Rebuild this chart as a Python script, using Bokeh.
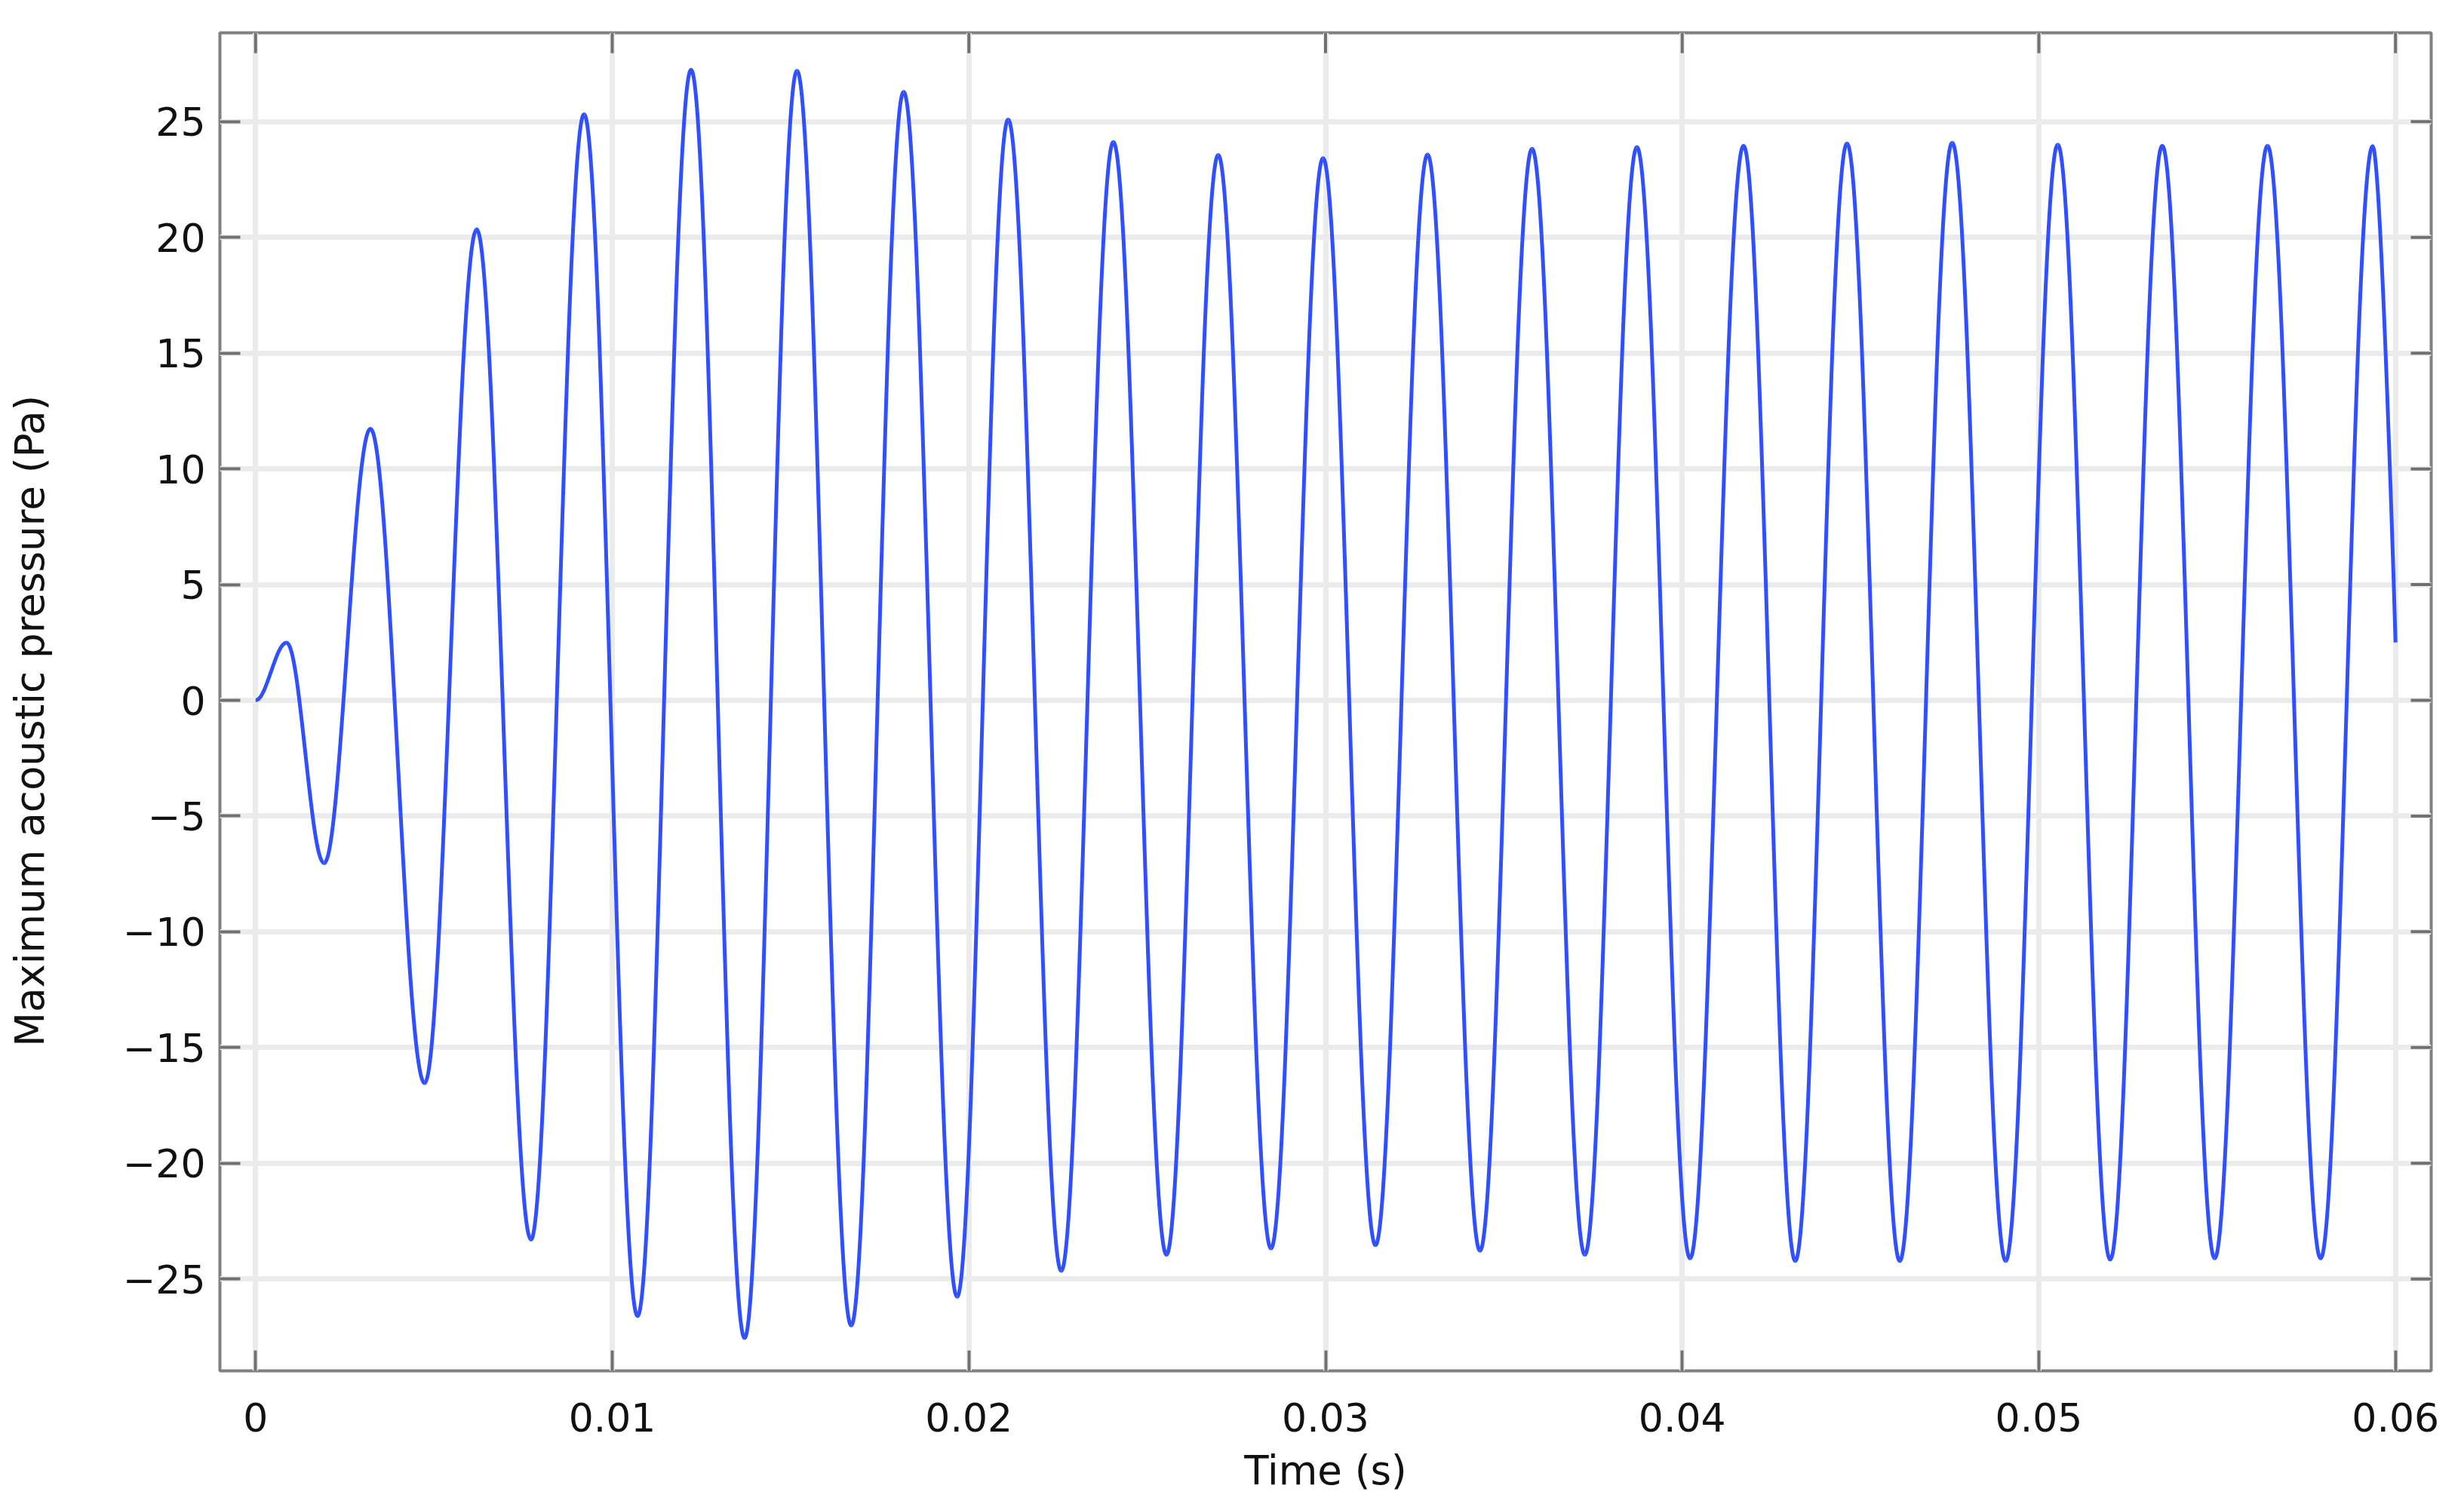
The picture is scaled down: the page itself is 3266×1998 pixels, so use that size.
from bokeh.plotting import figure
from bokeh.models import FixedTicker, Range1d, ColumnDataSource
from bokeh.embed import file_html
from bokeh.resources import INLINE

# ---- data (times of successive extrema and their values) ----
ext_time = [0.0, 0.00087, 0.00192, 0.00322, 0.00474, 0.00620, 0.00772, 0.00921,
            0.01071, 0.01221, 0.01371, 0.01518, 0.01670, 0.01817, 0.01967, 0.02110,
            0.02259, 0.02405, 0.02554, 0.02699, 0.02847, 0.02993, 0.03140, 0.03286,
            0.03433, 0.03579, 0.03727, 0.03873, 0.04022, 0.04172, 0.04317, 0.04462,
            0.04610, 0.04757, 0.04907, 0.05053, 0.05200, 0.05346, 0.05493, 0.05641,
            0.05790, 0.05936, 0.06000]
ext_pressure = [0.0, 2.49, -7.04, 11.73, -16.54, 20.35, -23.30, 25.32,
                -26.60, 27.24, -27.55, 27.20, -27.01, 26.29, -25.77, 25.09,
                -24.65, 24.12, -23.95, 23.56, -23.68, 23.42, -23.54, 23.58,
                -23.78, 23.83, -23.95, 23.90, -24.11, 23.96, -24.22, 24.06,
                -24.22, 24.09, -24.22, 24.01, -24.16, 23.96, -24.11, 23.96,
                -24.11, 23.94, 2.50]

x_ticks = [0, 0.01, 0.02, 0.03, 0.04, 0.05, 0.06]
x_tick_labels = ["0", "0.01", "0.02", "0.03", "0.04", "0.05", "0.06"]
y_ticks = [-25, -20, -15, -10, -5, 0, 5, 10, 15, 20, 25]
y_tick_labels = ["\u221225", "\u221220", "\u221215", "\u221210", "\u22125", "0",
                 "5", "10", "15", "20", "25"]

x_label = "Time (s)"
y_label = "Maximum acoustic pressure (Pa)"

# ---- view ----
X_MIN, X_MAX = -0.001, 0.061
Y_MIN, Y_MAX = -28.97, 28.84
FRAME_W, FRAME_H = 2931, 1775          # pixels of the plot frame
TICK_PX = 27                           # inward tick length on the mirrored sides

# ---- smooth curve through extrema (cubic segments, flat tangents at extrema) ----
k = 0.3634
x0 = ext_time[:-1]
y0 = ext_pressure[:-1]
x1 = ext_time[1:]
y1 = ext_pressure[1:]
cx0 = [a + k * (b - a) for a, b in zip(x0, x1)]
cy0 = list(y0)
cx1 = [b - k * (b - a) for a, b in zip(x0, x1)]
cy1 = list(y1)
# last point is not an extremum: let the curve arrive along its descent
cx1[-1] = x1[-1]
cy1[-1] = y1[-1]
src = ColumnDataSource(dict(x0=x0, y0=y0, x1=x1, y1=y1, cx0=cx0, cy0=cy0, cx1=cx1, cy1=cy1))

FONT = "DejaVu Sans"
TICK_COLOR = "#707070"

p = figure(width=3250, height=1982,
           x_range=Range1d(X_MIN, X_MAX), y_range=Range1d(Y_MIN, Y_MAX),
           output_backend="svg", toolbar_location=None,
           min_border_left=291, min_border_right=28, min_border_top=43, min_border_bottom=164,
           x_axis_label=x_label,
           y_axis_label=y_label + "\u00a0\u00a0\u00a0")

p.background_fill_color = "white"
p.border_fill_color = "white"
p.outline_line_color = "#808080"
p.outline_line_width = 4

xt = FixedTicker(ticks=x_ticks)
yt = FixedTicker(ticks=y_ticks)

for g, t in ((p.xgrid, xt), (p.ygrid, yt)):
    g.ticker = t
    g.grid_line_color = "#ebebeb"
    g.grid_line_width = 7

def style_axis(ax, ticker, labels):
    ax.ticker = ticker
    ax.axis_line_color = None
    ax.major_tick_in = TICK_PX
    ax.major_tick_out = 0
    ax.major_tick_line_color = TICK_COLOR
    ax.major_tick_line_width = 4
    ax.minor_tick_line_color = None
    ax.major_label_text_font = FONT
    ax.major_label_text_font_size = "52px"
    ax.major_label_text_color = "#111111"
    ax.axis_label_text_font = FONT
    ax.axis_label_text_font_size = "53px"
    ax.axis_label_text_font_style = "normal"
    ax.axis_label_text_color = "#111111"
    ax.major_label_overrides = labels

style_axis(p.xaxis[0], xt, {v: s for v, s in zip(x_ticks, x_tick_labels)})
style_axis(p.yaxis[0], yt, {v: s for v, s in zip(y_ticks, y_tick_labels)})
p.xaxis[0].major_label_standoff = 42
p.xaxis[0].axis_label_standoff = 18
p.yaxis[0].major_label_standoff = 19
p.yaxis[0].axis_label_standoff = 90

# mirrored inward ticks on the top and right edges of the frame
dy_tick = TICK_PX * (Y_MAX - Y_MIN) / FRAME_H
dx_tick = TICK_PX * (X_MAX - X_MIN) / FRAME_W
p.segment(x0=x_ticks, y0=[Y_MAX] * len(x_ticks), x1=x_ticks, y1=[Y_MAX - dy_tick] * len(x_ticks),
          line_color=TICK_COLOR, line_width=4)
p.segment(x0=[X_MAX] * len(y_ticks), y0=y_ticks, x1=[X_MAX - dx_tick] * len(y_ticks), y1=y_ticks,
          line_color=TICK_COLOR, line_width=4)

p.bezier(x0="x0", y0="y0", x1="x1", y1="y1", cx0="cx0", cy0="cy0", cx1="cx1", cy1="cy1",
         source=src, line_color="#3050ff", line_width=5)

open("out.html", "w").write(file_html(p, INLINE))
